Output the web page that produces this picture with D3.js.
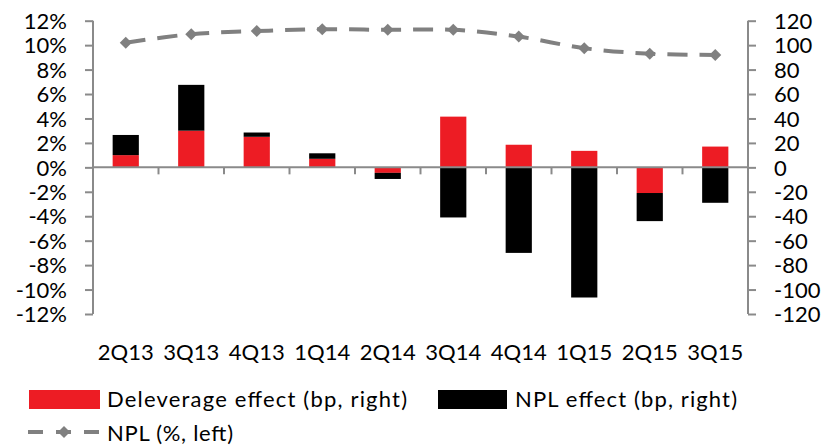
<!DOCTYPE html>
<html>
<head>
<meta charset="utf-8">
<script src="https://cdn.jsdelivr.net/npm/d3@7"></script>
<style>
  body { margin: 0; background: #fff; }
  text { font-family: Lato, "Open Sans", sans-serif; fill: #000; }
</style>
</head>
<body>
<div id="chart"></div>
<script>
// Chart data
const categories = ["2Q13", "3Q13", "4Q13", "1Q14", "2Q14", "3Q14", "4Q14", "1Q15", "2Q15", "3Q15"];
const deleverageEffect = [10, 30, 25, 7, -4.5, 41.5, 18.5, 13.5, -21, 17];   // bp, right
const nplEffect = [16.5, 37.5, 3.5, 4.5, -5, -41, -70, -106.5, -23, -29];      // bp, right
const nplRatio = [10.2, 10.9, 11.15, 11.3, 11.25, 11.25, 10.7, 9.75, 9.3, 9.2]; // %, left
const leftTicks = [-12, -10, -8, -6, -4, -2, 0, 2, 4, 6, 8, 10, 12];
const rightTicks = [-120, -100, -80, -60, -40, -20, 0, 20, 40, 60, 80, 100, 120];

const width = 825, height = 446;
const plot = { left: 93, right: 748, top: 20.7, bottom: 314 };
const axisColor = "#8a8a8a";
const fontSize = "22px";

const svg = d3.select("#chart")
    .append("svg")
    .attr("width", width)
    .attr("height", height);

// Scales
const x = d3.scaleBand()
    .domain(categories)
    .range([plot.left, plot.right])
    .paddingInner(0.6)
    .paddingOuter(0.3);

const yLeft = d3.scaleLinear().domain([-12, 12]).range([plot.bottom, plot.top]);
const yRight = d3.scaleLinear().domain([-120, 120]).range([plot.bottom, plot.top]);

// Stacked bars (positive and negative stacked separately, like Excel)
const rows = categories.map((c, i) => ({ cat: c, deleverage: deleverageEffect[i], npl: nplEffect[i] }));
const stack = d3.stack()
    .keys(["deleverage", "npl"])
    .offset(d3.stackOffsetDiverging);
const series = stack(rows);
const colors = { deleverage: "#ed1c24", npl: "#000000" };

svg.append("g")
    .attr("class", "bars")
    .selectAll("g")
    .data(series)
    .enter().append("g")
    .attr("fill", d => colors[d.key])
    .selectAll("rect")
    .data(d => d)
    .enter().append("rect")
    .attr("x", d => x(d.data.cat))
    .attr("width", x.bandwidth())
    .attr("y", d => yRight(Math.max(d[0], d[1])))
    .attr("height", d => Math.abs(yRight(d[0]) - yRight(d[1])));

// Axes
const axes = svg.append("g").attr("class", "axes");

const leftAxis = d3.axisLeft(yLeft)
    .tickValues(leftTicks)
    .tickSize(8)
    .tickPadding(18)
    .tickFormat(d => d + "%");
const gl = axes.append("g")
    .attr("transform", `translate(${plot.left},0)`)
    .call(leftAxis);

const rightAxis = d3.axisRight(yRight)
    .tickValues(rightTicks)
    .tickSize(8)
    .tickPadding(18)
    .tickFormat(d => d);
const gr = axes.append("g")
    .attr("transform", `translate(${plot.right},0)`)
    .call(rightAxis);

[gl, gr].forEach(g => {
    g.select(".domain").attr("stroke", axisColor).attr("stroke-width", 2);
    g.selectAll(".tick line").attr("stroke", axisColor).attr("stroke-width", 2);
    g.selectAll(".tick text").style("font-size", fontSize).attr("dy", "0.35em");
});
// d3 puts the domain with outer ticks; keep only the plain line
gl.select(".domain").attr("d", `M0,${plot.top}V${plot.bottom}`);
gr.select(".domain").attr("d", `M0,${plot.top}V${plot.bottom}`);

// Category axis on the zero line, tick marks between categories
const zeroY = yRight(0);
axes.append("line")
    .attr("x1", plot.left).attr("x2", plot.right)
    .attr("y1", zeroY).attr("y2", zeroY)
    .attr("stroke", axisColor).attr("stroke-width", 2);

axes.selectAll(".cat-tick")
    .data(categories.slice(1))
    .enter().append("line")
    .attr("class", "cat-tick")
    .attr("x1", d => x(d) - x.step() * x.paddingInner() / 2)
    .attr("x2", d => x(d) - x.step() * x.paddingInner() / 2)
    .attr("y1", zeroY).attr("y2", zeroY + 7)
    .attr("stroke", axisColor).attr("stroke-width", 2);

svg.append("g")
    .selectAll("text")
    .data(categories)
    .enter().append("text")
    .attr("x", d => x(d) + x.bandwidth() / 2)
    .attr("y", 360)
    .attr("text-anchor", "middle")
    .style("font-size", fontSize)
    .text(d => d);

// NPL line on the left axis
const cx = (d, i) => x(categories[i]) + x.bandwidth() / 2;
const line = d3.line()
    .x(cx)
    .y(d => yLeft(d))
    .curve(d3.curveCatmullRom.alpha(0.5));

svg.append("path")
    .datum(nplRatio)
    .attr("fill", "none")
    .attr("stroke", "#808080")
    .attr("stroke-width", 4)
    .attr("stroke-dasharray", "20,12")
    .attr("d", line);

const diamond = d3.symbol().type(d3.symbolSquare).size(72);
svg.append("g")
    .selectAll("path")
    .data(nplRatio)
    .enter().append("path")
    .attr("d", diamond)
    .attr("fill", "#808080")
    .attr("transform", (d, i) => `translate(${cx(d, i)},${yLeft(d)}) rotate(45)`);

// Legend
const legend = svg.append("g").attr("class", "legend");

legend.append("rect")
    .attr("x", 29).attr("y", 390).attr("width", 71).attr("height", 19)
    .attr("fill", colors.deleverage);
legend.append("text")
    .attr("x", 107).attr("y", 407)
    .attr("textLength", 300)
    .attr("lengthAdjust", "spacing")
    .style("font-size", fontSize)
    .text("Deleverage effect (bp, right)");

legend.append("rect")
    .attr("x", 438).attr("y", 390).attr("width", 69).attr("height", 19)
    .attr("fill", colors.npl);
legend.append("text")
    .attr("x", 515).attr("y", 407)
    .attr("textLength", 222)
    .attr("lengthAdjust", "spacing")
    .style("font-size", fontSize)
    .text("NPL effect (bp, right)");

legend.append("line")
    .attr("x1", 28).attr("x2", 100)
    .attr("y1", 432).attr("y2", 432)
    .attr("stroke", "#808080")
    .attr("stroke-width", 4)
    .attr("stroke-dasharray", "15,13");
legend.append("path")
    .attr("d", diamond)
    .attr("fill", "#808080")
    .attr("transform", "translate(64,432) rotate(45)");
legend.append("text")
    .attr("x", 107).attr("y", 441)
    .attr("textLength", 126)
    .attr("lengthAdjust", "spacing")
    .style("font-size", fontSize)
    .text("NPL (%, left)");
</script>
</body>
</html>
